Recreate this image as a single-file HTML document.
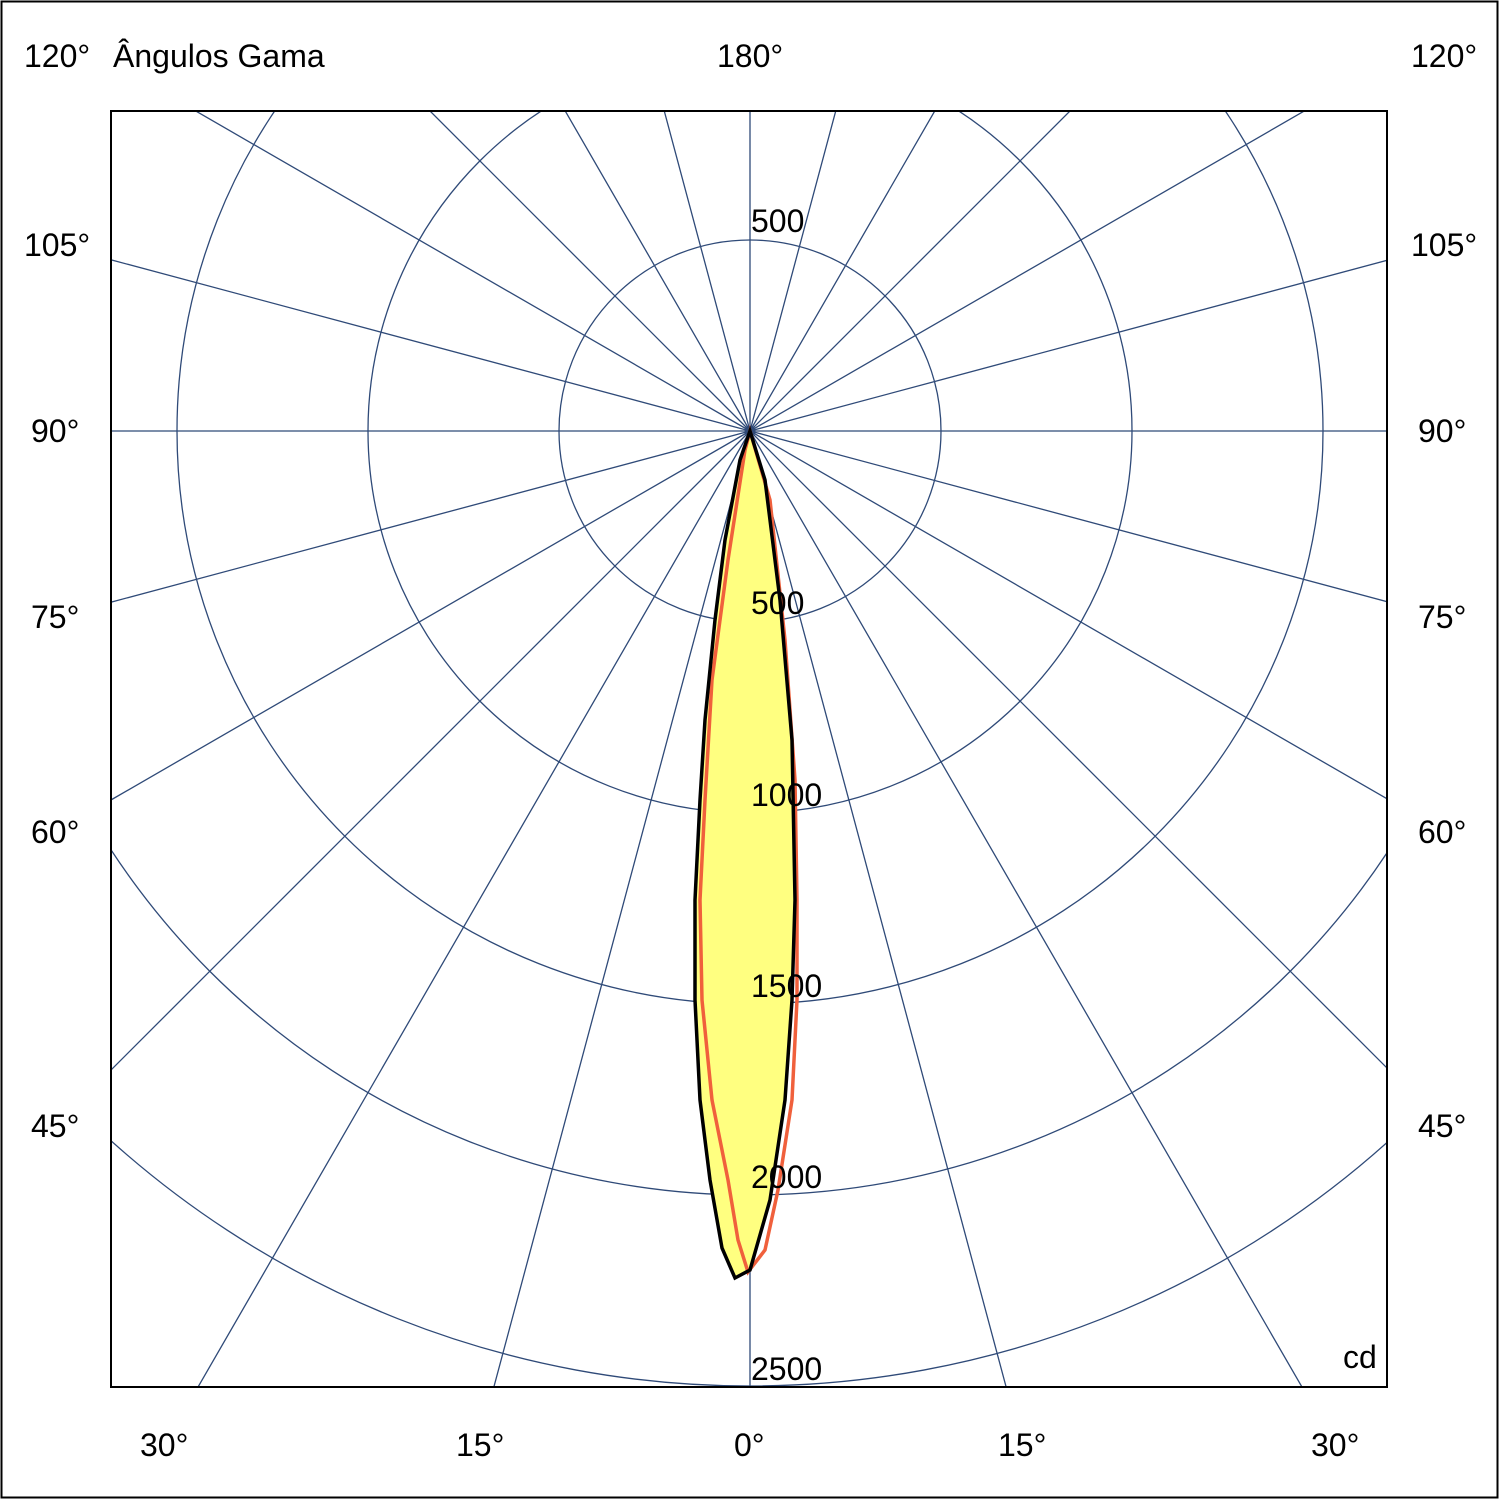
<!DOCTYPE html>
<html><head><style>
html,body{margin:0;padding:0;background:#fff;width:1500px;height:1500px;overflow:hidden;}
svg{display:block;}
text{font-family:"Liberation Sans",sans-serif;font-size:32px;fill:#000;}
</style></head><body>
<svg width="1500" height="1500" viewBox="0 0 1500 1500">
<rect x="1.5" y="1.5" width="1496" height="1496" fill="#fff" stroke="#000" stroke-width="2"/>
<defs><clipPath id="c"><rect x="111" y="111" width="1276" height="1276"/></clipPath></defs>
<g clip-path="url(#c)" stroke="#2f4a78" stroke-width="1.3" fill="none">
<circle cx="750" cy="431" r="191"/>
<circle cx="750" cy="431" r="382"/>
<circle cx="750" cy="431" r="573"/>
<circle cx="750" cy="431" r="764"/>
<circle cx="750" cy="431" r="955"/>
<path d="
M750 431 L750 2431 M750 431 L750 -1569
M750 431 L1267.6 2362.9 M750 431 L232.4 2362.9 M750 431 L1267.6 -1500.9 M750 431 L232.4 -1500.9
M750 431 L1750 2163 M750 431 L-250 2163 M750 431 L1750 -1301 M750 431 L-250 -1301
M750 431 L2164 1845 M750 431 L-664 1845 M750 431 L2164 -983 M750 431 L-664 -983
M750 431 L2482 1431 M750 431 L-982 1431 M750 431 L2482 -569 M750 431 L-982 -569
M750 431 L2682 948.6 M750 431 L-1182 948.6 M750 431 L2682 -86.6 M750 431 L-1182 -86.6
M111 431 L1387 431"/>
</g>
<rect x="111" y="111" width="1276" height="1276" fill="none" stroke="#000" stroke-width="2"/>
<path d="M750 431 L740 460 L725 540 L715 620 L705 720 L700 800 L695 900 L695 1000 L700 1100 L710 1180 L722 1248 L735 1278 L750 1270 L770 1200 L785 1100 L792 1000 L795 900 L792 740 L780 600 L765 480 Z" fill="#ffff80" stroke="none"/>
<path d="M750 431 L745 450 L728 560 L712 680 L705 800 L700 900 L702 1000 L712 1100 L728 1180 L738 1240 L748 1272 L765 1250 L778 1190 L792 1100 L797 1000 L797 900 L795 780 L785 640 L770 500 Z" fill="none" stroke="#f0603c" stroke-width="3.5"/>
<path d="M750 431 L740 460 L725 540 L715 620 L705 720 L700 800 L695 900 L695 1000 L700 1100 L710 1180 L722 1248 L735 1278 L750 1270 L770 1200 L785 1100 L792 1000 L795 900 L792 740 L780 600 L765 480 Z" fill="none" stroke="#000" stroke-width="3.5"/>
<text x="751" y="232">500</text>
<text x="751" y="614">500</text>
<text x="751" y="806">1000</text>
<text x="751" y="997">1500</text>
<text x="751" y="1188">2000</text>
<text x="751" y="1380">2500</text>
<text x="1343" y="1368">cd</text>
<text x="24" y="67">120°</text>
<text x="113" y="67">Ângulos Gama</text>
<text x="717" y="67">180°</text>
<text x="1411" y="67">120°</text>
<text x="24" y="256">105°</text><text x="1411" y="256">105°</text>
<text x="31" y="442">90°</text><text x="1418" y="442">90°</text>
<text x="31" y="628">75°</text><text x="1418" y="628">75°</text>
<text x="31" y="843">60°</text><text x="1418" y="843">60°</text>
<text x="31" y="1137">45°</text><text x="1418" y="1137">45°</text>
<text x="140" y="1456">30°</text>
<text x="456" y="1456">15°</text>
<text x="734" y="1456">0°</text>
<text x="998" y="1456">15°</text>
<text x="1311" y="1456">30°</text>
</svg>
</body></html>
